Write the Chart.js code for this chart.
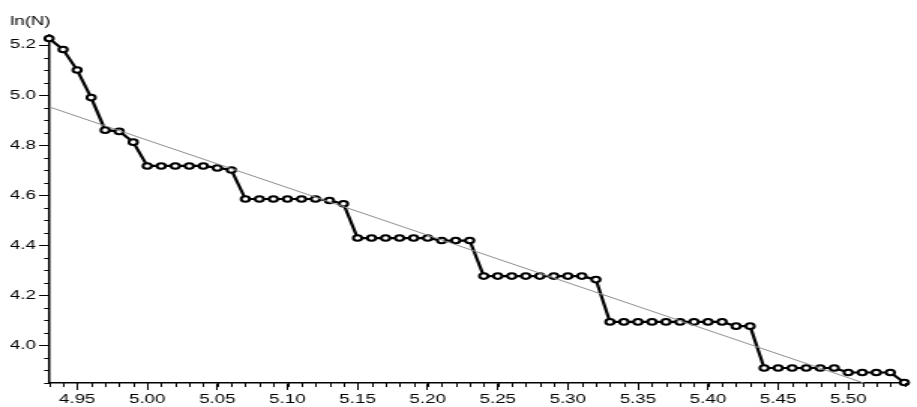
<!DOCTYPE html>
<html>
<head>
<meta charset="utf-8">
<script src="https://cdn.jsdelivr.net/npm/chart.js@4"></script>
<style>
  html, body { margin: 0; padding: 0; background: #fff; overflow: hidden; }
  /* the source plot is stretched sideways, so draw narrow and widen */
  #wrap { width: 611px; height: 407px; transform: scaleX(1.5008); transform-origin: 0 0; }
</style>
</head>
<body>
<div id="wrap"><canvas id="plot"></canvas></div>
<script>
// ln(r) on x, ln(N) on y
const lnR = [4.93, 4.94, 4.95, 4.96, 4.97, 4.98, 4.99, 5.00, 5.01, 5.02,
             5.03, 5.04, 5.05, 5.06, 5.07, 5.08, 5.09, 5.10, 5.11, 5.12,
             5.13, 5.14, 5.15, 5.16, 5.17, 5.18, 5.19, 5.20, 5.21, 5.22,
             5.23, 5.24, 5.25, 5.26, 5.27, 5.28, 5.29, 5.30, 5.31, 5.32,
             5.33, 5.34, 5.35, 5.36, 5.37, 5.38, 5.39, 5.40, 5.41, 5.42,
             5.43, 5.44, 5.45, 5.46, 5.47, 5.48, 5.49, 5.50, 5.51, 5.52,
             5.53, 5.54];
const lnN = [5.226, 5.182, 5.100, 4.990, 4.860, 4.855, 4.812, 4.717, 4.717, 4.717,
             4.717, 4.717, 4.709, 4.701, 4.585, 4.585, 4.585, 4.585, 4.585, 4.585,
             4.579, 4.566, 4.429, 4.429, 4.429, 4.429, 4.429, 4.429, 4.419, 4.419,
             4.419, 4.277, 4.277, 4.277, 4.277, 4.277, 4.277, 4.277, 4.277, 4.263,
             4.094, 4.094, 4.094, 4.094, 4.094, 4.094, 4.094, 4.094, 4.094, 4.077,
             4.077, 3.910, 3.910, 3.910, 3.910, 3.910, 3.910, 3.892, 3.892, 3.892,
             3.892, 3.852];

// straight fit line, two ends
const fitX = [4.93, 5.54];
const fitY = [4.953, 3.795];

const xTicks = [4.95, 5.00, 5.05, 5.10, 5.15, 5.20, 5.25, 5.30, 5.35, 5.40, 5.45, 5.50];
const yTicks = [4.0, 4.2, 4.4, 4.6, 4.8, 5.0, 5.2];
const X_MINOR = 0.01;
const Y_MINOR = 0.05;

const FONT = { family: "'Liberation Sans', Arial, sans-serif", size: 12.5 };

// short minor ticks between the labelled ones
const minorTicks = {
    id: 'minorTicks',
    afterDraw(chart) {
        const { ctx, scales: { x, y } } = chart;
        ctx.save();
        ctx.strokeStyle = '#000';
        ctx.lineWidth = 1;
        ctx.beginPath();
        for (let i = Math.ceil(x.min / X_MINOR - 1e-6); i * X_MINOR <= x.max; i++) {
            const px = Math.round(x.getPixelForValue(i * X_MINOR)) + 0.5;
            ctx.moveTo(px, x.top);
            ctx.lineTo(px, x.top + 4);
        }
        for (let i = Math.ceil(y.min / Y_MINOR - 1e-6); i * Y_MINOR <= y.max; i++) {
            const py = Math.round(y.getPixelForValue(i * Y_MINOR)) + 0.5;
            ctx.moveTo(y.right, py);
            ctx.lineTo(y.right - 3.3, py);
        }
        ctx.stroke();
        ctx.restore();
    }
};

const ctx = document.getElementById('plot').getContext('2d');
const chart = new Chart(ctx, {
    type: 'line',
    data: {
        datasets: [
            {
                label: 'fit',
                data: fitX.map((v, i) => ({ x: v, y: fitY[i] })),
                borderColor: '#8e8e8e',
                borderWidth: 1,
                pointRadius: 0,
                fill: false
            },
            {
                label: 'ln(N)',
                data: lnR.map((v, i) => ({ x: v, y: lnN[i] })),
                borderColor: '#000',
                borderWidth: 2.2,
                pointRadius: 2.8,
                pointBorderWidth: 2,
                pointBackgroundColor: '#fff',
                pointBorderColor: '#000',
                tension: 0,
                clip: false,
                fill: false
            }
        ]
    },
    options: {
        responsive: true,
        maintainAspectRatio: false,
        animation: false,
        layout: { padding: { left: 6.7, right: 0, top: 0, bottom: 0 } },
        plugins: {
            legend: { display: false },
            tooltip: { enabled: false },
            title: {
                display: true,
                text: 'ln(N)',
                align: 'start',
                color: '#000',
                font: { ...FONT, weight: 'normal' },
                padding: { top: 14, bottom: 6 }
            }
        },
        scales: {
            x: {
                type: 'linear',
                min: 4.93,
                max: 5.5426,
                afterBuildTicks: (axis) => { axis.ticks = xTicks.map(v => ({ value: v })); },
                afterFit: (axis) => { axis.height = 24; },
                ticks: {
                    color: '#000',
                    font: FONT,
                    padding: 2,
                    autoSkip: false,
                    maxRotation: 0,
                    callback: (v) => v.toFixed(2)
                },
                grid: { drawOnChartArea: false, color: '#000', tickLength: 7 },
                border: { color: '#000', width: 1.5 }
            },
            y: {
                type: 'linear',
                min: 3.85,
                max: 5.24,
                afterBuildTicks: (axis) => { axis.ticks = yTicks.map(v => ({ value: v })); },
                afterFit: (axis) => { axis.width = 26; },
                ticks: {
                    color: '#000',
                    font: FONT,
                    padding: 2,
                    callback: (v) => v.toFixed(1)
                },
                grid: { drawOnChartArea: false, color: '#000', tickLength: 6.7 },
                border: { color: '#000', width: 1.5 }
            }
        }
    },
    plugins: [minorTicks]
});
</script>
</body>
</html>
